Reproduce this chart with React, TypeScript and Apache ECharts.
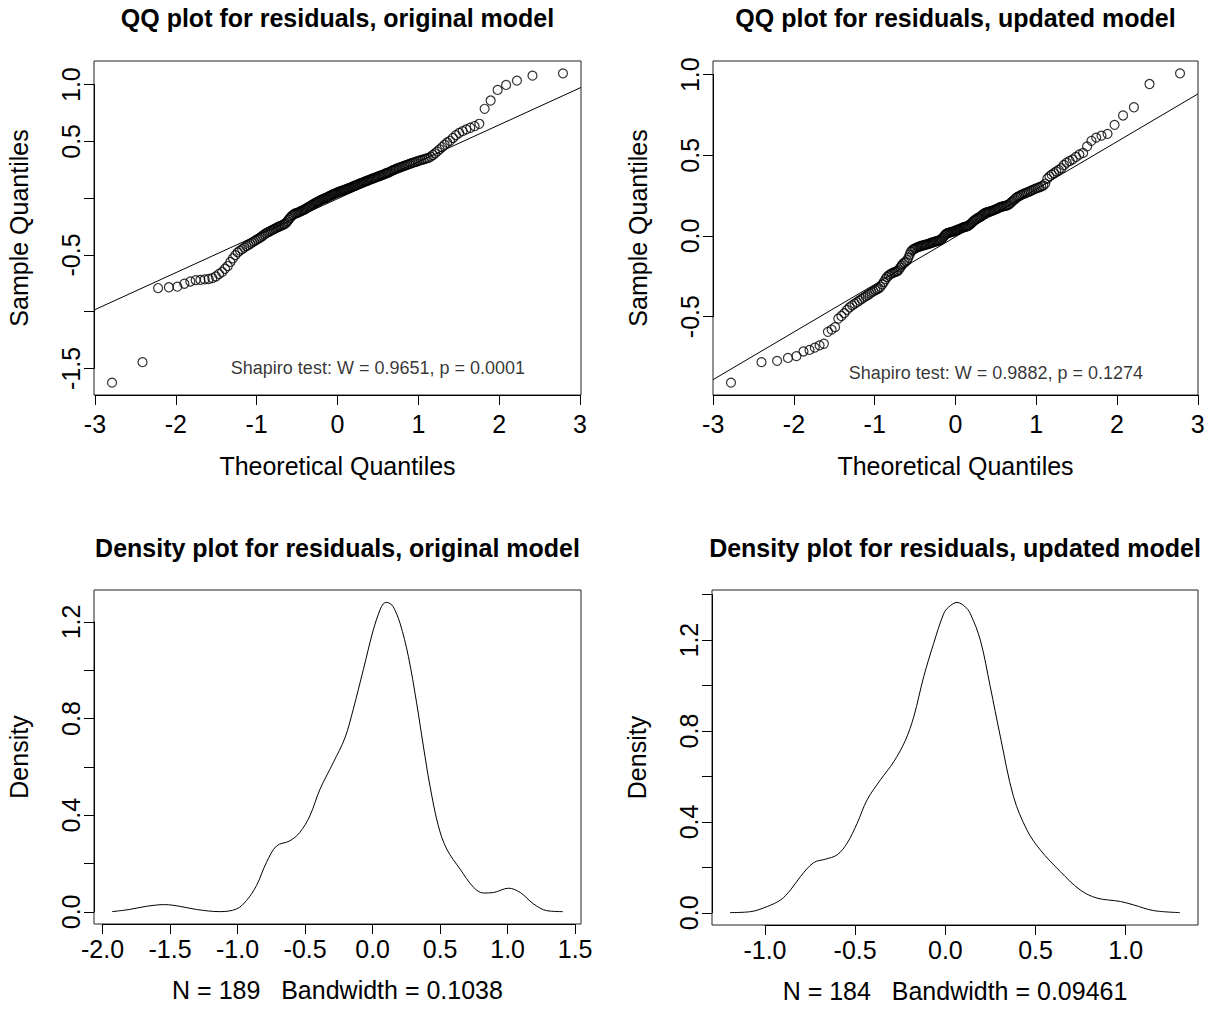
import React, { useEffect, useRef } from "react";
import * as echarts from "echarts";

const FONT = '"Liberation Sans", Arial, Helvetica, sans-serif';

const panelTitles = [
  "QQ plot for residuals, original model",
  "QQ plot for residuals, updated model",
  "Density plot for residuals, original model",
  "Density plot for residuals, updated model",
];

// sorted residuals (sample quantiles)
const origResiduals = [
  -1.625, -1.445, -0.792, -0.785, -0.780, -0.754, -0.734, -0.722, -0.720, -0.716,
  -0.712, -0.705, -0.690, -0.668, -0.650, -0.622, -0.598, -0.562, -0.530, -0.502,
  -0.478, -0.462, -0.449, -0.436, -0.423, -0.413, -0.402, -0.391, -0.381, -0.371,
  -0.361, -0.352, -0.342, -0.331, -0.320, -0.311, -0.303, -0.296, -0.288, -0.281,
  -0.275, -0.268, -0.262, -0.256, -0.250, -0.245, -0.240, -0.234, -0.228, -0.218,
  -0.205, -0.190, -0.176, -0.163, -0.152, -0.143, -0.137, -0.133, -0.129, -0.125,
  -0.120, -0.115, -0.110, -0.105, -0.100, -0.094, -0.088, -0.082, -0.076, -0.070,
  -0.064, -0.058, -0.052, -0.046, -0.040, -0.035, -0.030, -0.025, -0.020, -0.015,
  -0.011, -0.007, -0.003, 0.001, 0.005, 0.010, 0.015, 0.020, 0.025, 0.030,
  0.034, 0.038, 0.042, 0.046, 0.050, 0.054, 0.057, 0.061, 0.064, 0.068,
  0.071, 0.075, 0.078, 0.082, 0.085, 0.089, 0.093, 0.097, 0.101, 0.105,
  0.109, 0.113, 0.117, 0.121, 0.125, 0.129, 0.133, 0.137, 0.141, 0.145,
  0.149, 0.153, 0.157, 0.161, 0.165, 0.169, 0.173, 0.177, 0.181, 0.185,
  0.189, 0.193, 0.197, 0.201, 0.205, 0.210, 0.215, 0.219, 0.223, 0.228,
  0.234, 0.240, 0.246, 0.251, 0.256, 0.261, 0.266, 0.270, 0.275, 0.280,
  0.285, 0.290, 0.295, 0.300, 0.305, 0.310, 0.315, 0.320, 0.325, 0.330,
  0.335, 0.340, 0.345, 0.350, 0.355, 0.365, 0.380, 0.395, 0.412, 0.430,
  0.450, 0.470, 0.490, 0.505, 0.530, 0.555, 0.575, 0.590, 0.605, 0.620,
  0.635, 0.655, 0.787, 0.860, 0.953, 0.997, 1.035, 1.079, 1.099,
];

const updResiduals = [
  -0.909, -0.782, -0.774, -0.756, -0.745, -0.716, -0.706, -0.692, -0.678, -0.668,
  -0.594, -0.580, -0.565, -0.512, -0.496, -0.478, -0.458, -0.442, -0.430, -0.420,
  -0.410, -0.400, -0.391, -0.382, -0.374, -0.366, -0.358, -0.350, -0.343, -0.336,
  -0.330, -0.324, -0.315, -0.300, -0.285, -0.268, -0.254, -0.245, -0.238, -0.232,
  -0.228, -0.224, -0.221, -0.218, -0.208, -0.195, -0.182, -0.172, -0.165, -0.159,
  -0.150, -0.135, -0.115, -0.097, -0.088, -0.082, -0.078, -0.074, -0.071, -0.068,
  -0.065, -0.062, -0.060, -0.058, -0.056, -0.054, -0.052, -0.050, -0.047, -0.045,
  -0.042, -0.040, -0.038, -0.035, -0.033, -0.031, -0.029, -0.027, -0.024, -0.018,
  -0.010, -0.002, 0.006, 0.013, 0.017, 0.019, 0.021, 0.023, 0.025, 0.027,
  0.029, 0.031, 0.034, 0.037, 0.040, 0.043, 0.046, 0.049, 0.052, 0.054,
  0.056, 0.058, 0.060, 0.063, 0.068, 0.074, 0.080, 0.087, 0.094, 0.100,
  0.105, 0.109, 0.113, 0.117, 0.121, 0.127, 0.134, 0.140, 0.143, 0.146,
  0.148, 0.150, 0.152, 0.154, 0.157, 0.160, 0.163, 0.166, 0.170, 0.174,
  0.178, 0.181, 0.183, 0.185, 0.187, 0.189, 0.192, 0.198, 0.205, 0.213,
  0.221, 0.229, 0.237, 0.243, 0.248, 0.253, 0.258, 0.262, 0.266, 0.270,
  0.274, 0.279, 0.284, 0.289, 0.294, 0.298, 0.302, 0.307, 0.313, 0.325,
  0.355, 0.370, 0.380, 0.390, 0.400, 0.410, 0.420, 0.440, 0.455, 0.465,
  0.475, 0.490, 0.505, 0.515, 0.555, 0.590, 0.610, 0.622, 0.633, 0.689,
  0.747, 0.798, 0.942, 1.008,
];

// qqline (intercept, slope)
const qqLineOrig = [-0.0055, 0.3255];
const qqLineUpd = [-0.005, 0.295];

const shapiroLabels = [
  "Shapiro test: W = 0.9651, p = 0.0001",
  "Shapiro test: W = 0.9882, p = 0.1274",
];
const shapiroAt = [
  [0.5, -1.5],
  [0.5, -0.85],
];

// kernel density estimates
const densOrigX = [
  -1.93, -1.8, -1.676, -1.54, -1.428, -1.305, -1.132, -1.008, -0.934, -0.86,
  -0.786, -0.711, -0.613, -0.539, -0.465, -0.39, -0.292, -0.205, -0.144, -0.069,
  0.005, 0.054, 0.079, 0.104, 0.129, 0.153, 0.203, 0.265, 0.326, 0.376,
  0.425, 0.487, 0.549, 0.648, 0.747, 0.821, 0.895, 1.007, 1.094, 1.192,
  1.29, 1.41,
];
const densOrigY = [
  0.001, 0.01, 0.023, 0.03, 0.023, 0.01, 0.001, 0.012, 0.047, 0.109,
  0.205, 0.273, 0.294, 0.329, 0.397, 0.507, 0.617, 0.72, 0.837, 1.002,
  1.167, 1.249, 1.275, 1.281, 1.276, 1.263, 1.195, 1.057, 0.865, 0.686,
  0.521, 0.356, 0.26, 0.177, 0.102, 0.078, 0.08, 0.098, 0.08, 0.033,
  0.005, 0.001,
];
const densUpdX = [
  -1.194, -1.08, -0.987, -0.913, -0.858, -0.803, -0.73, -0.665, -0.6, -0.545,
  -0.489, -0.434, -0.36, -0.286, -0.221, -0.175, -0.12, -0.065, -0.009, 0.019,
  0.065, 0.111, 0.138, 0.194, 0.249, 0.305, 0.378, 0.452, 0.526, 0.637,
  0.747, 0.84, 0.97, 1.043, 1.153, 1.301,
];
const densUpdY = [
  0.001, 0.005, 0.028, 0.057, 0.101, 0.16, 0.221, 0.236, 0.255, 0.306,
  0.394, 0.497, 0.585, 0.665, 0.76, 0.863, 1.039, 1.185, 1.317, 1.346,
  1.366, 1.346, 1.317, 1.2, 0.995, 0.775, 0.511, 0.365, 0.277, 0.182,
  0.101, 0.065, 0.05, 0.035, 0.01, 0.001,
];

const densityLabels = ["N = 189   Bandwidth = 0.1038", "N = 184   Bandwidth = 0.09461"];

// tick specs: [min, max, step, decimals, hidden labels]
const qqOrigXTicks = [-3, 3, 1, 0, []];
const qqOrigYTicks = [-1.5, 1.0, 0.5, 1, [0, -1]];
const qqUpdXTicks = [-3, 3, 1, 0, []];
const qqUpdYTicks = [-0.5, 1.0, 0.5, 1, []];
const dOrigXTicks = [-2, 1.5, 0.5, 1, []];
const dOrigYTicks = [0, 1.2, 0.2, 1, [0.2, 0.6, 1.0]];
const dUpdXTicks = [-1, 1, 0.5, 1, []];
const dUpdYTicks = [0, 1.4, 0.2, 1, [0.2, 0.6, 1.0, 1.4]];

function qnorm(p: number): number {
  const a = [-3.969683028665376e1, 2.209460984245205e2, -2.759285104469687e2, 1.38357751867269e2, -3.066479806614716e1, 2.506628277459239];
  const b = [-5.447609879822406e1, 1.615858368580409e2, -1.556989798598866e2, 6.680131188771972e1, -1.328068155288572e1];
  const c = [-7.784894002430293e-3, -3.223964580411365e-1, -2.400758277161838, -2.549732539343734, 4.374664141464968, 2.938163982698783];
  const d = [7.784695709041462e-3, 3.224671290700398e-1, 2.445134137142996, 3.754408661907416];
  const pl = 0.02425;
  if (p < pl) {
    const q = Math.sqrt(-2 * Math.log(p));
    return (((((c[0] * q + c[1]) * q + c[2]) * q + c[3]) * q + c[4]) * q + c[5]) / ((((d[0] * q + d[1]) * q + d[2]) * q + d[3]) * q + 1);
  }
  if (p <= 1 - pl) {
    const q = p - 0.5;
    const r = q * q;
    return ((((((a[0] * r + a[1]) * r + a[2]) * r + a[3]) * r + a[4]) * r + a[5]) * q) / (((((b[0] * r + b[1]) * r + b[2]) * r + b[3]) * r + b[4]) * r + 1);
  }
  const q = Math.sqrt(-2 * Math.log(1 - p));
  return -(((((c[0] * q + c[1]) * q + c[2]) * q + c[3]) * q + c[4]) * q + c[5]) / ((((d[0] * q + d[1]) * q + d[2]) * q + d[3]) * q + 1);
}

function theoretical(n: number): number[] {
  const a = n <= 10 ? 3 / 8 : 0.5;
  const out: number[] = [];
  for (let i = 1; i <= n; i++) out.push(qnorm((i - a) / (n + 1 - 2 * a)));
  return out;
}

function extend(vals: number[]): [number, number] {
  const lo = Math.min(...vals);
  const hi = Math.max(...vals);
  const d = (hi - lo) * 0.04;
  return [lo - d, hi + d];
}

function fmt(dec: number, hide: number[]) {
  return (v: number) => {
    if (Math.abs(v) < 1e-9) v = 0;
    if (hide.some((h) => Math.abs(h - v) < 1e-6)) return "";
    return v.toFixed(dec);
  };
}

function buildOption() {
  const zOrig = theoretical(origResiduals.length);
  const zUpd = theoretical(updResiduals.length);

  const boxes = [
    { left: 94, top: 61, width: 487, height: 334 },
    { left: 713, top: 61, width: 485, height: 334 },
    { left: 94, top: 590, width: 487, height: 334 },
    { left: 712, top: 590, width: 486, height: 335 },
  ];

  const panels = [
    {
      xr: extend(zOrig), yr: extend(origResiduals), xt: qqOrigXTicks, yt: qqOrigYTicks,
      xName: "Theoretical Quantiles", yName: "Sample Quantiles", xLabMargin: 16, xNameGap: 58,
    },
    {
      xr: extend(zUpd), yr: extend(updResiduals), xt: qqUpdXTicks, yt: qqUpdYTicks,
      xName: "Theoretical Quantiles", yName: "Sample Quantiles", xLabMargin: 16, xNameGap: 58,
    },
    {
      xr: extend(densOrigX), yr: extend(densOrigY), xt: dOrigXTicks, yt: dOrigYTicks,
      xName: densityLabels[0], yName: "Density", xLabMargin: 12, xNameGap: 53,
    },
    {
      xr: extend(densUpdX), yr: extend(densUpdY), xt: dUpdXTicks, yt: dUpdYTicks,
      xName: densityLabels[1], yName: "Density", xLabMargin: 12, xNameGap: 53,
    },
  ];

  const grid: any[] = [];
  const xAxis: any[] = [];
  const yAxis: any[] = [];
  const graphic: any[] = [];
  const lineStyle = { color: "#000", width: 1 };
  const textBase = { color: "#000", fontFamily: FONT, fontSize: 25 };

  panels.forEach((p, k) => {
    const b = boxes[k];
    const [xt0, xt1, xs, xd, xh] = p.xt as [number, number, number, number, number[]];
    const [yt0, yt1, ys, yd, yh] = p.yt as [number, number, number, number, number[]];
    const xspan = p.xr[1] - p.xr[0];
    const yspan = p.yr[1] - p.yr[0];

    // box grid (data)
    grid.push({ ...b, show: true, borderColor: "#222", borderWidth: 1, backgroundColor: "transparent", containLabel: false, outerBoundsMode: "none" });
    xAxis.push({
      gridIndex: 3 * k, type: "value", min: p.xr[0], max: p.xr[1],
      axisLine: { show: false }, axisTick: { show: false }, axisLabel: { show: false }, splitLine: { show: false },
      name: p.xName, nameLocation: "middle", nameGap: p.xNameGap, nameTextStyle: { ...textBase },
    });
    yAxis.push({
      gridIndex: 3 * k, type: "value", min: p.yr[0], max: p.yr[1],
      axisLine: { show: false }, axisTick: { show: false }, axisLabel: { show: false }, splitLine: { show: false },
      name: p.yName, nameLocation: "middle", nameGap: 63, nameRotate: 90, nameTextStyle: { ...textBase },
    });

    // x tick axis grid
    grid.push({
      left: b.left + ((xt0 - p.xr[0]) / xspan) * b.width,
      width: ((xt1 - xt0) / xspan) * b.width,
      top: b.top, height: b.height, show: false, containLabel: false, outerBoundsMode: "none",
    });
    xAxis.push({
      gridIndex: 3 * k + 1, type: "value", min: xt0, max: xt1, interval: xs, position: "bottom",
      axisLine: { show: true, onZero: false, lineStyle },
      axisTick: { show: true, inside: false, length: 10, lineStyle },
      axisLabel: { show: true, margin: p.xLabMargin, formatter: fmt(xd, xh), ...textBase },
      splitLine: { show: false },
    });
    yAxis.push({ gridIndex: 3 * k + 1, type: "value", min: 0, max: 1, show: false });

    // y tick axis grid
    grid.push({
      left: b.left, width: b.width,
      top: b.top + ((p.yr[1] - yt1) / yspan) * b.height,
      height: ((yt1 - yt0) / yspan) * b.height, show: false, containLabel: false, outerBoundsMode: "none",
    });
    xAxis.push({ gridIndex: 3 * k + 2, type: "value", min: 0, max: 1, show: false });
    yAxis.push({
      gridIndex: 3 * k + 2, type: "value", min: yt0, max: yt1, interval: ys, position: "left",
      axisLine: { show: true, onZero: false, lineStyle },
      axisTick: { show: true, inside: false, length: 10, lineStyle },
      axisLabel: { show: true, margin: 11, rotate: 90, formatter: fmt(yd, yh), ...textBase },
      splitLine: { show: false },
    });

    graphic.push({
      type: "text", x: b.left + b.width / 2, y: k < 2 ? 18 : 548, silent: true,
      style: { text: panelTitles[k], font: `bold 25px ${FONT}`, fill: "#000", align: "center", verticalAlign: "middle" },
    });
  });

  const circleStyle = { color: "rgba(0,0,0,0)", borderColor: "#000", borderWidth: 1.2 };
  const series: any[] = [];
  const qq = [
    { z: zOrig, s: origResiduals, line: qqLineOrig, k: 0 },
    { z: zUpd, s: updResiduals, line: qqLineUpd, k: 1 },
  ];
  qq.forEach((q, j) => {
    const xr = panels[q.k].xr;
    series.push({
      type: "scatter", xAxisIndex: 3 * q.k, yAxisIndex: 3 * q.k, symbol: "circle", symbolSize: 9,
      itemStyle: circleStyle, data: q.z.map((z, i) => [z, q.s[i]]), silent: true, z: 2,
    });
    series.push({
      type: "line", xAxisIndex: 3 * q.k, yAxisIndex: 3 * q.k, symbol: "none", clip: true,
      lineStyle: { color: "#000", width: 1 }, silent: true, z: 3,
      data: [xr[0], xr[1]].map((x) => [x, q.line[0] + q.line[1] * x]),
    });
    series.push({
      type: "scatter", xAxisIndex: 3 * q.k, yAxisIndex: 3 * q.k, symbolSize: 0, silent: true,
      data: [shapiroAt[j]],
      label: { show: true, position: "inside", formatter: shapiroLabels[j], color: "#000", fontFamily: FONT, fontSize: 18 },
    });
  });

  const dens = [
    { x: densOrigX, y: densOrigY, k: 2 },
    { x: densUpdX, y: densUpdY, k: 3 },
  ];
  dens.forEach((d) => {
    series.push({
      type: "line", xAxisIndex: 3 * d.k, yAxisIndex: 3 * d.k, symbol: "none", smooth: 0.35, silent: true,
      lineStyle: { color: "#000", width: 1 }, data: d.x.map((x, i) => [x, d.y[i]]),
    });
  });

  return {
    animation: false,
    backgroundColor: "#fff",
    textStyle: { fontFamily: FONT },
    grid, xAxis, yAxis, series, graphic,
  };
}

export default function App() {
  const ref = useRef<HTMLDivElement>(null);
  useEffect(() => {
    document.body.style.margin = "0";
    if (!ref.current) return;
    const chart = echarts.init(ref.current, undefined, { renderer: "svg" });
    chart.setOption(buildOption() as any);
    return () => chart.dispose();
  }, []);
  return <div ref={ref} style={{ width: 1209, height: 1011 }} />;
}
